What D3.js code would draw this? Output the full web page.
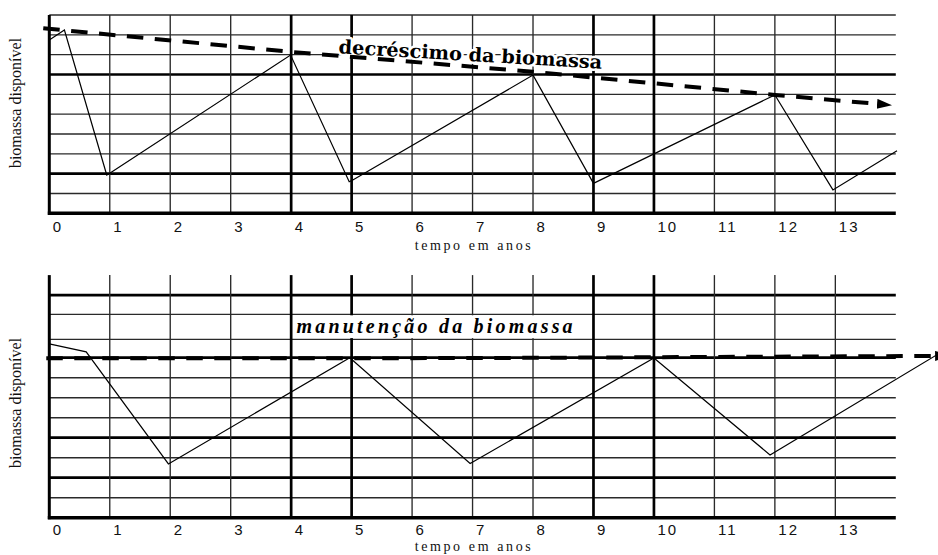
<!DOCTYPE html>
<html lang="pt">
<head>
    <meta charset="utf-8" />
    <title>Biomassa disponível</title>
    <style>
        body { margin: 0; background: #fff; }
        .grid { stroke: #2a2a2a; stroke-width: 1.35; }
        .grid.thick { stroke: #000; stroke-width: 2.7; }
        .tick-label { font: 15px "Liberation Sans", Arial, sans-serif; letter-spacing: 2px; fill: #111; }
        .axis-title { font: 14px "Liberation Serif", "Times New Roman", serif; letter-spacing: 2.6px; fill: #111; }
        .y-title { font: 16px "Liberation Serif", "Times New Roman", serif; fill: #111; }
    </style>
</head>
<body>
<svg width="938" height="555"></svg>

<script src="https://d3js.org/d3.v7.min.js"></script>
<script>
    // tick labels / grid
    const yearLabels = ["0", "1", "2", "3", "4", "5", "6", "7", "8", "9", "10", "11", "12", "13"];
    const yearLines = [1, 2, 3, 4, 5, 6, 7, 8, 9, 10, 11, 12, 13];
    const thickYears = [4, 5, 9, 10];

    const topLevels = [1, 2, 3, 4, 5, 6, 7, 8, 9, 10];
    const topThick = [2, 7];
    const bottomLevels = [1, 2, 3, 4, 5, 6, 7, 8, 8.92, 10.17, 11.13];
    const bottomThick = [2, 4, 8, 11.13];

    // top chart: decréscimo
    const topBiomass = [
        [0, 8.74], [0.25, 9.24], [0.95, 1.93], [1.0, 2.02], [3.99, 7.98],
        [4.96, 1.59], [5.02, 1.68], [8.0, 6.97], [9.0, 1.51], [12.0, 5.97],
        [12.96, 1.18], [14.02, 3.16]
    ];
    const topTrend = [[-0.1, 9.33], [4, 8.14], [8, 7.14], [12, 5.97], [13.69, 5.52]];

    // bottom chart: manutenção
    const bottomBiomass = [
        [0, 8.69], [0.61, 8.29], [1.97, 2.69], [4.97, 8.0], [6.96, 2.71],
        [10.0, 7.98], [11.92, 3.14], [14.72, 8.22]
    ];
    const bottomTrend = [[-0.05, 7.97], [7, 7.98], [14.65, 8.09]];

    const svg = d3.select("svg");

    svg.append("defs").append("marker")
        .attr("id", "arrow")
        .attr("markerUnits", "userSpaceOnUse")
        .attr("markerWidth", 16)
        .attr("markerHeight", 12)
        .attr("refX", 0)
        .attr("refY", 5)
        .attr("orient", "auto")
        .append("path")
        .attr("d", "M0,0 L15,5 L0,10 Z")
        .attr("fill", "#000");

    const x = d3.scaleLinear().domain([0, 14]).range([49.3, 895.8]);

    function drawPanel(opts) {
        const y = opts.y;
        const g = svg.append("g");
        const x0 = x(0), x1 = x(14);
        const yb = y(0), yt = y(opts.top);

        // horizontal grid
        g.selectAll("line.h")
            .data(opts.levels)
            .join("line")
            .attr("class", d => opts.thick.includes(d) ? "grid thick" : "grid")
            .attr("x1", x0).attr("x2", x1)
            .attr("y1", d => y(d)).attr("y2", d => y(d));

        // vertical grid
        g.selectAll("line.v")
            .data(yearLines)
            .join("line")
            .attr("class", d => thickYears.includes(d) ? "grid thick" : "grid")
            .attr("x1", d => x(d)).attr("x2", d => x(d))
            .attr("y1", yt).attr("y2", yb);

        // axes
        g.append("line")
            .attr("x1", x0).attr("x2", x0).attr("y1", yt).attr("y2", yb + 1.5)
            .attr("stroke", "#000").attr("stroke-width", 3);
        g.append("line")
            .attr("x1", x0 - 1.5).attr("x2", x1).attr("y1", yb).attr("y2", yb)
            .attr("stroke", "#000").attr("stroke-width", 3.6);

        g.selectAll("text.tick")
            .data(yearLabels)
            .join("text")
            .attr("class", "tick-label")
            .attr("x", (d, i) => x(i) + 3.5)
            .attr("y", yb + opts.tickOffset)
            .text(d => d);

        g.append("text")
            .attr("class", "axis-title")
            .attr("x", 474)
            .attr("y", opts.titleY)
            .attr("text-anchor", "middle")
            .text("tempo em anos");

        g.append("text")
            .attr("class", "y-title")
            .attr("transform", `translate(21,${opts.yTitleY}) rotate(-90)`)
            .attr("text-anchor", "middle")
            .text("biomassa disponível");

        const line = d3.line().x(d => x(d[0])).y(d => y(d[1]));

        g.append("path")
            .datum(opts.biomass)
            .attr("d", line)
            .attr("fill", "none")
            .attr("stroke", "#000")
            .attr("stroke-width", 1.2);

        g.append("path")
            .datum(opts.trend)
            .attr("class", "trend")
            .attr("d", line)
            .attr("fill", "none")
            .attr("stroke", "#000")
            .attr("stroke-width", 4)
            .attr("stroke-dasharray", "16.5 11.5")
            .attr("marker-end", "url(#arrow)");

        return g;
    }

    const yTop = d3.scaleLinear().domain([0, 10]).range([213.3, 15]);
    const topG = drawPanel({
        y: yTop, top: 10, levels: topLevels, thick: topThick,
        biomass: topBiomass, trend: topTrend,
        tickOffset: 19, titleY: 250, yTitleY: 103
    });

    const lblX = x(6.96), lblY = yTop(7.68);
    topG.append("text")
        .attr("x", lblX)
        .attr("y", lblY)
        .attr("transform", `rotate(3.4, ${lblX}, ${lblY})`)
        .attr("text-anchor", "middle")
        .attr("textLength", 264)
        .attr("lengthAdjust", "spacingAndGlyphs")
        .style("font", "bold 19px 'DejaVu Serif', serif")
        .style("paint-order", "stroke")
        .attr("stroke", "#fff")
        .attr("stroke-width", 5)
        .attr("stroke-linejoin", "round")
        .attr("fill", "#000")
        .text("decréscimo da biomassa");
    topG.select(".trend").raise();

    const yBottom = d3.scaleLinear().domain([0, 12]).range([517.7, 277.7]);
    const bottomG = drawPanel({
        y: yBottom, top: 12.13, levels: bottomLevels, thick: bottomThick,
        biomass: bottomBiomass, trend: bottomTrend,
        tickOffset: 17.3, titleY: 551, yTitleY: 403
    });

    bottomG.append("rect")
        .attr("x", 294)
        .attr("y", yBottom(10.12))
        .attr("width", 280)
        .attr("height", yBottom(8.98) - yBottom(10.12))
        .attr("fill", "#fff");

    bottomG.append("text")
        .attr("x", 296.5)
        .attr("y", yBottom(9.22))
        .style("font", "italic bold 20px 'Liberation Serif', 'Times New Roman', serif")
        .style("letter-spacing", "3.2px")
        .attr("fill", "#000")
        .text("manutenção da biomassa");
</script>
</body>
</html>
